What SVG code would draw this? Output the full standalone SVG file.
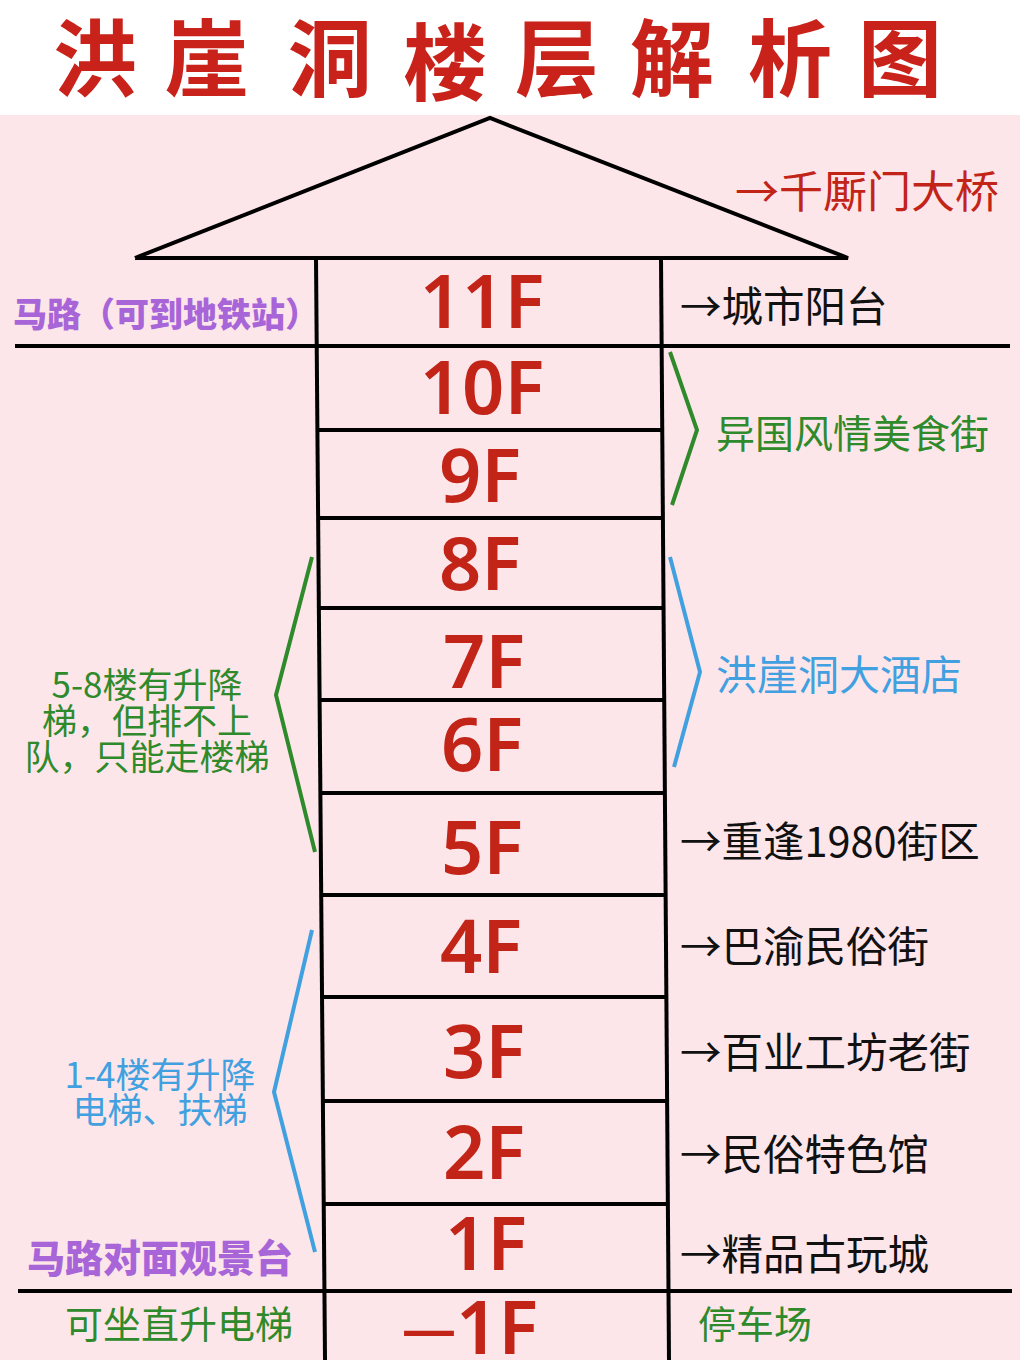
<svg xmlns="http://www.w3.org/2000/svg" width="1020" height="1360" viewBox="0 0 1020 1360">
<style>
.t{font-family:"Noto Sans CJK SC","Noto Sans",sans-serif}
.title{font-size:84px;font-weight:700;fill:#c9221a;text-anchor:middle}
.fl{font-family:"Noto Sans","Noto Sans CJK SC",sans-serif;font-size:74px;font-weight:600;fill:#c22418;text-anchor:middle}
.blk{font-size:41.5px;fill:#111}
.grn{fill:#2f8a2c}
.blu{fill:#41a0e0}
.pur{fill:#a865d8;font-weight:900}
.ln{stroke:#000;stroke-width:4;fill:none}
.br{stroke-width:4;fill:none;stroke-linejoin:miter}
</style>
<rect x="0" y="0" width="1020" height="1360" fill="#ffffff"/>
<rect x="0" y="115" width="1020" height="1245" fill="#fde6ea"/>
<g id="title" class="t title">
<text x="95" y="90">洪</text><text x="207" y="90">崖</text><text x="330" y="90">洞</text><text x="445" y="94">楼</text><text x="557" y="90">层</text><text x="672" y="90">解</text><text x="790" y="90">析</text><text x="900" y="90">图</text>
</g>
<g id="connectors">
<polyline class="ln" points="135,258 490,118 848,258 135,258"/>
<line class="ln" x1="316" y1="258" x2="325" y2="1360"/>
<line class="ln" x1="661" y1="258" x2="669" y2="1360"/>
<line class="ln" x1="15" y1="346" x2="1010" y2="346"/>
<line class="ln" x1="318" y1="430" x2="662" y2="430"/>
<line class="ln" x1="318" y1="518" x2="663" y2="518"/>
<line class="ln" x1="319" y1="608" x2="663" y2="608"/>
<line class="ln" x1="320" y1="700" x2="664" y2="700"/>
<line class="ln" x1="321" y1="793" x2="665" y2="793"/>
<line class="ln" x1="322" y1="895" x2="666" y2="895"/>
<line class="ln" x1="322" y1="997" x2="666" y2="997"/>
<line class="ln" x1="323" y1="1101" x2="667" y2="1101"/>
<line class="ln" x1="324" y1="1204" x2="668" y2="1204"/>
<line class="ln" x1="18" y1="1291" x2="1012" y2="1291"/>
<polyline class="br" stroke="#2f8a2c" points="670,352 697,430 672,505"/>
<polyline class="br" stroke="#41a0e0" points="670,557 700,672 674,767"/>
<polyline class="br" stroke="#2f8a2c" points="312,557 276,695 315,852"/>
<polyline class="br" stroke="#41a0e0" points="312,930 274,1092 315,1252"/>
</g>
<g id="floors" class="fl">
<text x="482" y="328">11F</text>
<text x="482" y="414">10F</text>
<text x="480" y="502">9F</text>
<text x="480" y="590">8F</text>
<text x="484" y="688">7F</text>
<text x="482" y="771">6F</text>
<text x="482" y="874">5F</text>
<text x="481" y="973">4F</text>
<text x="484" y="1078">3F</text>
<text x="484" y="1179">2F</text>
<text x="486" y="1270">1F</text>
<text x="470" y="1354"><tspan font-size="54" dy="-6">—</tspan><tspan dy="6">1F</tspan></text>
</g>
<g id="right-labels" class="t">
<text x="735" y="208" font-size="44" fill="#c22418">→千厮门大桥</text>
<text x="680" y="322" class="blk">→城市阳台</text>
<text x="716" y="448" font-size="39" class="grn">异国风情美食街</text>
<text x="716" y="690" font-size="41" class="blu">洪崖洞大酒店</text>
<text x="680" y="857" class="blk">→重逢1980街区</text>
<text x="680" y="962" class="blk">→巴渝民俗街</text>
<text x="680" y="1068" class="blk">→百业工坊老街</text>
<text x="680" y="1170" class="blk">→民俗特色馆</text>
<text x="680" y="1270" class="blk">→精品古玩城</text>
<text x="698" y="1338" font-size="38" class="grn">停车场</text>
</g>
<g id="left-labels" class="t">
<text x="13" y="327" font-size="34" class="pur">马路（可到地铁站）</text>
<g font-size="35" class="grn" text-anchor="middle">
<text x="147" y="698">5-8楼有升降</text>
<text x="147" y="734">梯，但排不上</text>
<text x="147" y="770">队，只能走楼梯</text>
</g>
<g font-size="35" class="blu" text-anchor="middle">
<text x="160" y="1088">1-4楼有升降</text>
<text x="160" y="1123">电梯、扶梯</text>
</g>
<text x="27" y="1272" font-size="38" class="pur">马路对面观景台</text>
<text x="65" y="1338" font-size="38" class="grn">可坐直升电梯</text>
</g>
</svg>
